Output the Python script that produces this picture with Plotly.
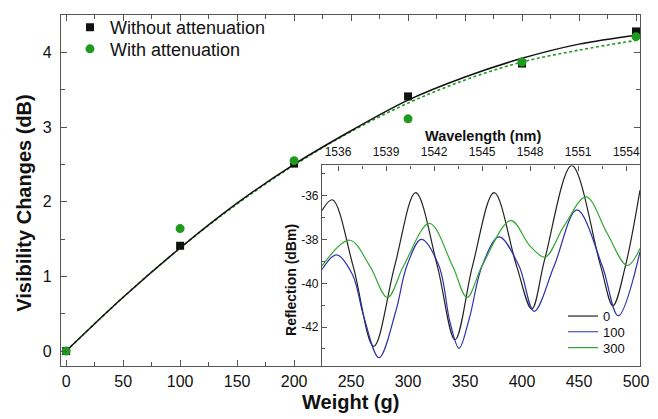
import plotly.graph_objects as go

# ---------------- main data ----------------
weights = [0, 100, 200, 300, 400, 500]
vis_without = [0.0, 1.41, 2.51, 3.41, 3.85, 4.28]
vis_with = [0.0, 1.64, 2.55, 3.11, 3.87, 4.21]

fit_weights = [0, 50, 100, 150, 200, 250, 300, 350, 400, 450, 500]
fit_without = [0.0, 0.72, 1.38, 1.98, 2.50, 2.95, 3.36, 3.67, 3.92, 4.11, 4.23]
fit_with = [0.0, 0.72, 1.38, 1.97, 2.49, 2.94, 3.32, 3.63, 3.87, 4.03, 4.16]

# ---------------- inset data (reflection spectra) ----------------
wl_0 = [1535.0, 1535.65, 1536.94, 1538.23, 1539.54, 1540.85, 1542.2, 1543.31, 1544.4,
        1545.75, 1547.15, 1548.1, 1548.9, 1550.6, 1552.4, 1553.17, 1553.95, 1554.86]
refl_0 = [-36.67, -36.18, -39.2, -42.88, -39.2, -35.85, -39.2, -42.58, -39.2,
          -35.85, -39.2, -41.17, -38.93, -34.62, -39.2, -41.02, -39.2, -35.74]

wl_100 = [1535.0, 1535.9, 1536.9, 1537.6, 1538.56, 1539.6, 1540.3, 1541.2, 1542.3, 1543.0,
          1543.56, 1544.2, 1545.0, 1546.06, 1547.3, 1548.25, 1549.5, 1550.92, 1552.5,
          1553.5, 1554.86]
refl_100 = [-39.37, -38.7, -39.6, -41.5, -43.4, -41.3, -39.2, -37.99, -39.2, -41.8,
            -42.97, -41.6, -39.2, -37.88, -39.2, -41.28, -39.2, -36.64, -39.2,
            -41.48, -38.56]

wl_300 = [1535.0, 1536.73, 1537.98, 1539.09, 1540.1, 1541.71, 1543.15, 1544.06, 1545.0,
          1546.8, 1548.0, 1548.93, 1550.1, 1551.5, 1552.8, 1554.06, 1554.86]
refl_300 = [-39.2, -38.03, -39.2, -40.65, -39.2, -37.26, -39.2, -40.64, -39.2,
            -37.13, -38.3, -38.8, -37.4, -36.05, -37.7, -39.19, -38.41]

inset_xticks = [1536, 1539, 1542, 1545, 1548, 1551, 1554]
inset_yticks = [-42, -40, -38, -36]
inset_yticktext = ["-42", "-40", "-38", "-36"]

FONT = "Liberation Sans, Arial, sans-serif"
BLACK = "#111111"
GREEN = "#1e9a1e"
AX = "#555555"

fig = go.Figure()

# fit curves
fig.add_trace(go.Scatter(x=fit_weights, y=fit_with, mode="lines",
                         line=dict(color=GREEN, width=1.6, dash="3px,2.5px"),
                         line_shape="spline", showlegend=False, xaxis="x", yaxis="y"))
fig.add_trace(go.Scatter(x=fit_weights, y=fit_without, mode="lines", line=dict(color=BLACK, width=1.5),
                         line_shape="spline", showlegend=False, xaxis="x", yaxis="y"))
# data points
fig.add_trace(go.Scatter(x=weights, y=vis_without, mode="markers", name="Without attenuation",
                         marker=dict(symbol="square", size=8, color=BLACK), legend="legend"))
fig.add_trace(go.Scatter(x=weights, y=vis_with, mode="markers", name="With attenuation",
                         marker=dict(symbol="circle", size=9, color=GREEN), legend="legend3"))

# inset spectra
fig.add_trace(go.Scatter(x=wl_0, y=refl_0, mode="lines", name="0", line=dict(color="#222222", width=1.2),
                         line_shape="spline", xaxis="x2", yaxis="y2", legend="legend2"))
fig.add_trace(go.Scatter(x=wl_100, y=refl_100, mode="lines", name="100", line=dict(color="#2f2fa8", width=1.2),
                         line_shape="spline", xaxis="x2", yaxis="y2", legend="legend4"))
fig.add_trace(go.Scatter(x=wl_300, y=refl_300, mode="lines", name="300", line=dict(color="#33a833", width=1.2),
                         line_shape="spline", xaxis="x2", yaxis="y2", legend="legend5"))

leg_main = dict(xanchor="left", yanchor="top", bgcolor="rgba(0,0,0,0)",
                font=dict(size=18, family=FONT, color=BLACK))
leg_inset = dict(xanchor="left", yanchor="top", bgcolor="rgba(0,0,0,0)",
                 font=dict(size=13, family=FONT, color=BLACK))

fig.update_layout(
    width=658, height=419,
    margin=dict(l=61, r=18, t=9, b=53),
    paper_bgcolor="white", plot_bgcolor="white",
    font=dict(family=FONT, color=BLACK),
    xaxis=dict(domain=[0, 1], range=[-4.5, 503.5], tick0=0, dtick=50, ticks="inside", ticklen=6,
               tickcolor=AX, showline=True, linecolor=AX, linewidth=1.3, mirror="ticks",
               showgrid=False, zeroline=False, tickfont=dict(size=16, family=FONT, color=BLACK),
               ticklabelstandoff=1,
               minor=dict(dtick=25, ticks="inside", ticklen=3.5, tickcolor=AX)),
    yaxis=dict(domain=[0, 1], range=[-0.2, 4.5], tick0=0, dtick=1, ticks="inside", ticklen=6,
               tickcolor=AX, showline=True, linecolor=AX, linewidth=1.3, mirror="ticks",
               showgrid=False, zeroline=False, tickfont=dict(size=16, family=FONT, color=BLACK),
               ticklabelstandoff=5,
               minor=dict(dtick=0.5, ticks="inside", ticklen=3.5, tickcolor=AX)),
    xaxis2=dict(domain=[0.4508, 1.0], anchor="y2", side="top", range=[1535.0, 1554.86],
                tickvals=inset_xticks, ticks="inside", ticklen=5, tickcolor=AX,
                showline=True, linecolor=AX, linewidth=1.2, mirror=True, showgrid=False, zeroline=False,
                tickfont=dict(size=12, family=FONT, color=BLACK), ticklabelstandoff=4,
                minor=dict(dtick=1.5, tick0=1536, ticks="inside", ticklen=3, tickcolor=AX)),
    yaxis2=dict(domain=[0, 0.5714], anchor="x2", side="left", range=[-43.78, -34.61],
                tickvals=inset_yticks, ticktext=inset_yticktext, ticks="inside", ticklen=5, tickcolor=AX,
                ticklabelposition="outside",
                showline=True, linecolor=AX, linewidth=1.2, mirror=True, showgrid=False, zeroline=False,
                tickfont=dict(size=12, family=FONT, color=BLACK),
                minor=dict(dtick=1, ticks="inside", ticklen=3, tickcolor=AX)),
    legend=dict(x=0.0155, y=1.017, **leg_main),
    legend3=dict(x=0.0155, y=0.9554, **leg_main),
    legend2=dict(x=0.867, y=0.1849, **leg_inset),
    legend4=dict(x=0.867, y=0.1401, **leg_inset),
    legend5=dict(x=0.867, y=0.0952, **leg_inset),
    annotations=[
        dict(text="<b>Weight (g)</b>", xref="paper", yref="paper", x=0.5, y=-0.102,
             xanchor="center", yanchor="middle", showarrow=False, font=dict(size=20, family=FONT, color=BLACK)),
        dict(text="<b>Visibility Changes (dB)</b>", xref="paper", yref="paper", x=-0.064, y=0.465,
             xanchor="center", yanchor="middle", textangle=-90, showarrow=False,
             font=dict(size=20, family=FONT, color=BLACK)),
        dict(text="<b>Wavelength (nm)</b>", xref="paper", yref="paper", x=0.729, y=0.656,
             xanchor="center", yanchor="middle", showarrow=False, font=dict(size=14.5, family=FONT, color=BLACK)),
        dict(text="<b>Reflection (dBm)</b>", xref="paper", yref="paper", x=0.396, y=0.246,
             xanchor="center", yanchor="middle", textangle=-90, showarrow=False,
             font=dict(size=14, family=FONT, color=BLACK)),
    ],
)

fig.write_html("out.html", config={"displayModeBar": False},
               post_script="document.body.style.margin='0px';")
